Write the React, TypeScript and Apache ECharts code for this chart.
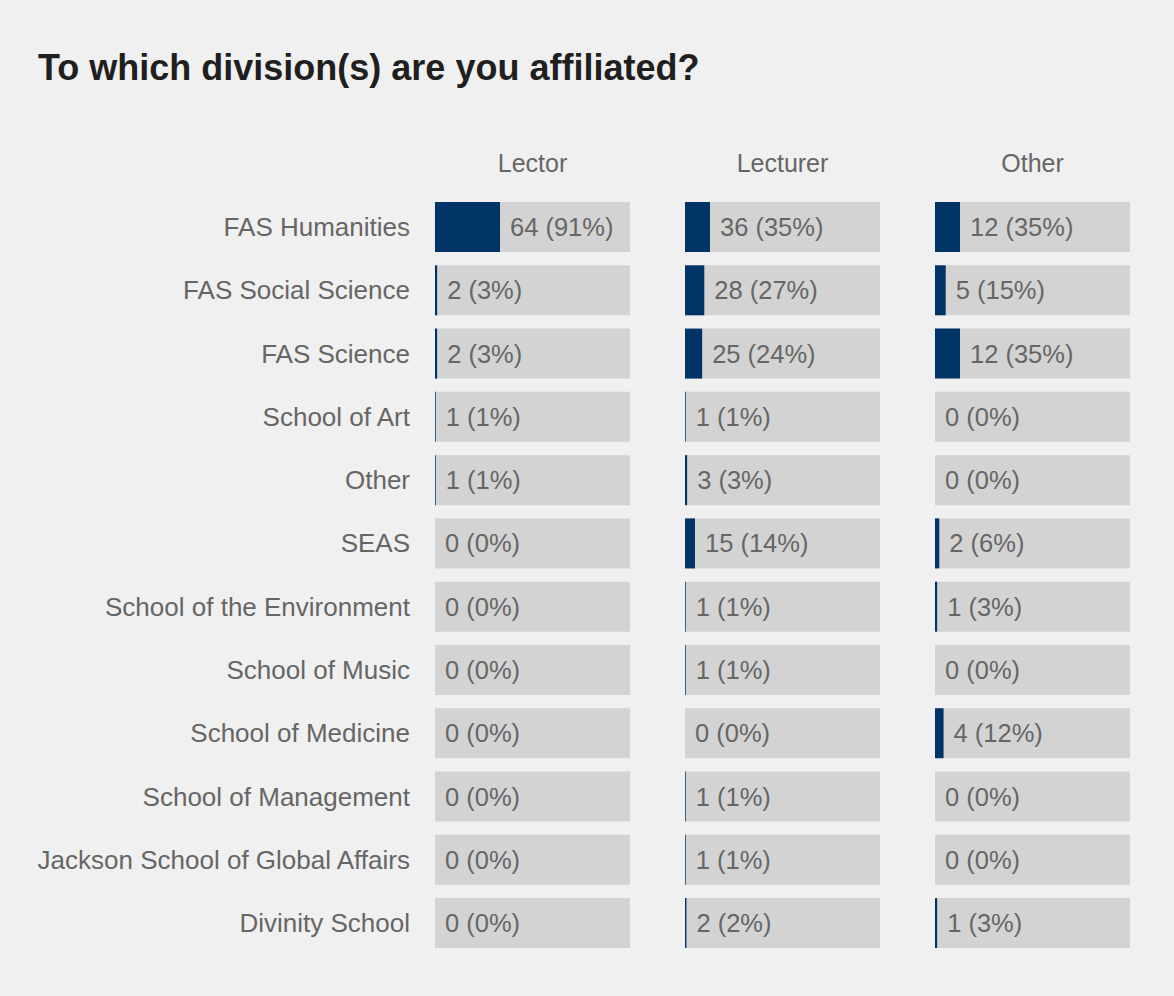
import React, { useEffect, useRef } from "react";
import * as echarts from "echarts";

const categories = [
  "FAS Humanities",
  "FAS Social Science",
  "FAS Science",
  "School of Art",
  "Other",
  "SEAS",
  "School of the Environment",
  "School of Music",
  "School of Medicine",
  "School of Management",
  "Jackson School of Global Affairs",
  "Divinity School",
];

const panels = ["Lector", "Lecturer", "Other"];

const lectorCounts = [64, 2, 2, 1, 1, 0, 0, 0, 0, 0, 0, 0];
const lectorPct = [91, 3, 3, 1, 1, 0, 0, 0, 0, 0, 0, 0];
const lecturerCounts = [36, 28, 25, 1, 3, 15, 1, 1, 0, 1, 1, 2];
const lecturerPct = [35, 27, 24, 1, 3, 14, 1, 1, 0, 1, 1, 2];
const otherCounts = [12, 5, 12, 0, 0, 2, 1, 0, 4, 0, 0, 1];
const otherPct = [35, 15, 35, 0, 0, 6, 3, 0, 12, 0, 0, 3];

const counts = [lectorCounts, lecturerCounts, otherCounts];
const pcts = [lectorPct, lecturerPct, otherPct];

const AXIS_MAX = 273;
const FONT = "Liberation Sans, Arial, Helvetica, sans-serif";

export default function App() {
  const ref = useRef<HTMLDivElement>(null);
  useEffect(() => {
    if (!ref.current) return;
    const chart = echarts.init(ref.current, null, { renderer: "svg" });
    const lefts = [435, 685, 935];
    const grids = lefts.map((l) => ({ left: l, width: 195, top: 195.4, height: 759.3 }));
    const xAxes = panels.map((p, i) => ({
      type: "value",
      gridIndex: i,
      min: 0,
      max: AXIS_MAX,
      position: "top",
      name: p,
      nameLocation: "middle",
      nameGap: 20,
      nameTextStyle: { color: "#666666", fontSize: 25, fontFamily: FONT },
      axisLabel: { show: false },
      axisLine: { show: false },
      axisTick: { show: false },
      splitLine: { show: false },
    }));
    const yAxes = panels.map((_, i) => ({
      type: "category",
      gridIndex: i,
      data: categories,
      inverse: true,
      axisLine: { show: false },
      axisTick: { show: false },
      axisLabel: {
        show: i === 0,
        margin: 25,
        color: "#666666",
        fontSize: 26,
        fontFamily: FONT,
      },
    }));
    const series: any[] = [];
    panels.forEach((_, i) => {
      series.push({
        type: "bar",
        xAxisIndex: i,
        yAxisIndex: i,
        data: categories.map(() => AXIS_MAX),
        itemStyle: { color: "#d3d3d3" },
        barCategoryGap: "21%",
        barGap: "-100%",
        silent: true,
      });
      series.push({
        type: "bar",
        xAxisIndex: i,
        yAxisIndex: i,
        data: pcts[i],
        itemStyle: { color: "#003366" },
        barCategoryGap: "21%",
        barGap: "-100%",
        label: {
          show: true,
          position: "right",
          distance: 10,
          color: "#666666",
          fontSize: 25.5,
          fontFamily: FONT,
          formatter: (p: any) => `${counts[i][p.dataIndex]} (${pcts[i][p.dataIndex]}%)`,
        },
      });
    });
    chart.setOption({
      animation: false,
      backgroundColor: "#f0f0f0",
      title: {
        text: "To which division(s) are you affiliated?",
        left: 33,
        top: 44,
        textStyle: { color: "#1f1f1f", fontSize: 36, fontWeight: "bold", fontFamily: FONT },
      },
      grid: grids,
      xAxis: xAxes,
      yAxis: yAxes,
      series,
    });
    return () => chart.dispose();
  }, []);
  return (
    <div
      ref={ref}
      style={{ position: "absolute", left: 0, top: 0, width: 1174, height: 996 }}
    />
  );
}
